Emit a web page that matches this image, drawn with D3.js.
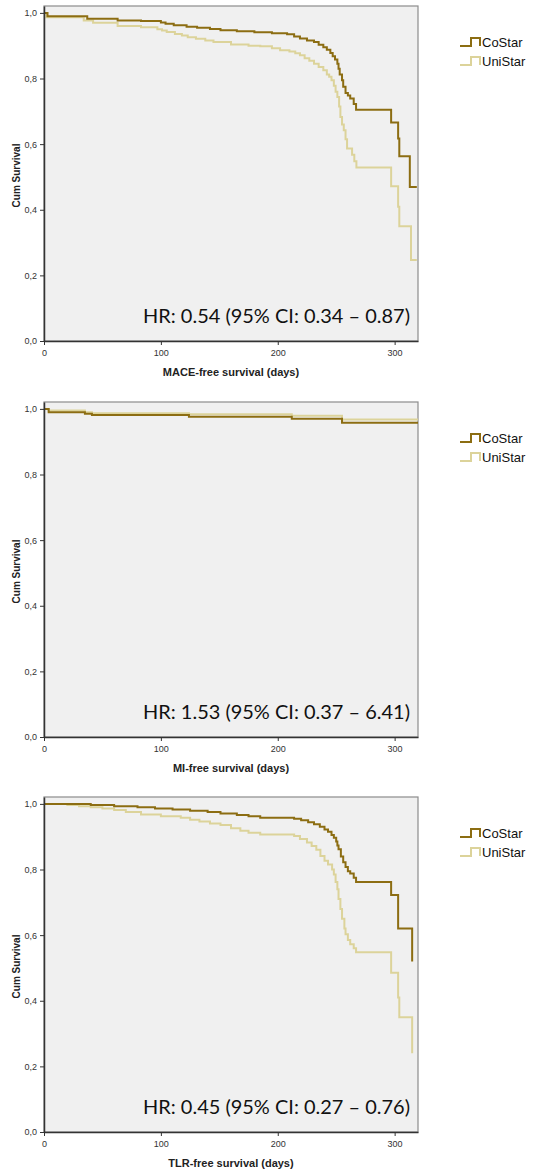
<!DOCTYPE html>
<html>
<head>
<meta charset="utf-8">
<script src="https://cdn.jsdelivr.net/npm/d3@7"></script>
<style>
	body { margin: 0; background: #fff; }
	text { font-family: Arial, "Liberation Sans", sans-serif; }
</style>
</head>
<body>
<svg id="km" width="537" height="1176"></svg>
<script>
// Kaplan-Meier steps, [day, cumulative survival]
const maceCoStar = [[0,1],[3,0.99],[37,0.982],[63,0.977],[83,0.975],[100,0.971],[104,0.967],[111,0.962],[122,0.958],[131,0.955],[142,0.951],[151,0.947],[165,0.944],[180,0.941],[195,0.938],[208,0.935],[214,0.928],[219,0.922],[225,0.916],[231,0.911],[235,0.903],[239,0.895],[242,0.888],[245,0.878],[247,0.868],[249,0.858],[251,0.845],[252,0.83],[253,0.812],[255,0.795],[256,0.775],[258,0.756],[260,0.748],[262,0.739],[265,0.722],[267,0.705],[297,0.666],[303,0.617],[304,0.563],[313,0.469],[319,0.469]];
const maceUniStar = [[0,1],[2,0.987],[34,0.977],[42,0.97],[63,0.96],[83,0.956],[97,0.95],[101,0.946],[105,0.942],[112,0.936],[118,0.931],[123,0.926],[130,0.921],[138,0.916],[145,0.911],[160,0.904],[175,0.9],[185,0.898],[195,0.892],[202,0.886],[210,0.882],[215,0.877],[219,0.871],[223,0.862],[227,0.854],[231,0.845],[235,0.835],[239,0.825],[242,0.812],[244,0.805],[246,0.795],[248,0.778],[249.5,0.76],[251,0.744],[252.5,0.715],[253.6,0.683],[255,0.66],[256.5,0.642],[258,0.615],[259.3,0.587],[263.6,0.568],[265.5,0.548],[267.3,0.529],[297,0.472],[303,0.409],[304,0.35],[314,0.247],[319,0.247]];
const miCoStar = [[0,1],[4,0.99],[35,0.985],[41,0.981],[124,0.976],[212,0.97],[255,0.958],[320,0.958]];
const miUniStar = [[0,1],[4,0.995],[35,0.99],[41,0.987],[124,0.984],[212,0.979],[255,0.968],[320,0.968]];
const tlrCoStar = [[0,1],[40,0.997],[60,0.993],[80,0.99],[95,0.986],[110,0.983],[125,0.979],[140,0.975],[151,0.971],[165,0.966],[175,0.962],[185,0.958],[214,0.955],[220,0.95],[226,0.944],[231,0.938],[236,0.93],[240,0.922],[243,0.915],[246,0.905],[248,0.897],[250,0.885],[251,0.873],[252,0.862],[254,0.84],[256,0.822],[258,0.808],[260,0.795],[262,0.788],[265,0.775],[267,0.762],[297,0.722],[303,0.62],[315,0.52]];
const tlrUniStar = [[0,1],[20,0.997],[30,0.993],[40,0.99],[50,0.986],[60,0.981],[70,0.975],[83,0.968],[100,0.962],[117,0.958],[125,0.952],[133,0.946],[142,0.94],[151,0.936],[160,0.926],[168,0.918],[175,0.912],[185,0.907],[214,0.902],[219,0.893],[225,0.882],[229,0.872],[233,0.86],[236.5,0.841],[240,0.827],[243,0.815],[246.5,0.8],[248,0.785],[249.5,0.762],[251,0.74],[252,0.71],[253.6,0.68],[255,0.65],[257,0.62],[258,0.603],[260,0.585],[262,0.572],[265,0.56],[267,0.548],[297,0.485],[303,0.41],[304,0.35],[315,0.24]];

const xTitles = ["MACE-free survival (days)", "MI-free survival (days)", "TLR-free survival (days)"];
const hrLabels = ["HR: 0.54 (95% CI: 0.34 \u2013 0.87)", "HR: 1.53 (95% CI: 0.37 \u2013 6.41)", "HR: 0.45 (95% CI: 0.27 \u2013 0.76)"];
const groups = ["CoStar", "UniStar"];
const xTicks = [0, 100, 200, 300];
const yTicks = [0, 0.2, 0.4, 0.6, 0.8, 1.0];

const colors = { CoStar: "#8c6d12", UniStar: "#dcd39a" };
const panelTops = [6, 402, 797];
const plotL = 44, plotR = 418, plotH = 335;

let svg = d3.select('#km');

let x = d3.scaleLinear().domain([0, 320]).range([plotL, plotR]),
	y = d3.scaleLinear().domain([0, 1.021]).range([plotH, 0]);

let line = d3.line()
	.x(d => x(d[0]))
	.y(d => y(d[1]))
	.curve(d3.curveStepAfter);

let panels = [
	{ co: maceCoStar, uni: maceUniStar },
	{ co: miCoStar, uni: miUniStar },
	{ co: tlrCoStar, uni: tlrUniStar },
];

panels.forEach((p, i) => {
	let g = svg.append('g')
		.attr('transform', `translate(0, ${panelTops[i]})`);

	g.append('rect')
		.attr('x', plotL)
		.attr('y', 0)
		.attr('width', plotR - plotL)
		.attr('height', plotH)
		.attr('fill', '#f0f0f0')
		.attr('stroke', '#8c8c8c')
		.attr('stroke-width', 1.2);

	// curves, UniStar below CoStar
	[['UniStar', p.uni], ['CoStar', p.co]].forEach(([name, data]) => {
		g.append('path')
			.datum(data)
			.attr('d', line)
			.attr('fill', 'none')
			.attr('stroke', colors[name])
			.attr('stroke-width', 2);
	});

	// axes
	let yAxis = g.append('g')
		.attr('transform', `translate(${plotL}, 0)`)
		.call(d3.axisLeft(y)
			.tickValues(yTicks)
			.tickSize(4)
			.tickSizeOuter(0)
			.tickFormat(d => d3.format('.1f')(d).replace('.', ',')));

	let xAxis = g.append('g')
		.attr('transform', `translate(0, ${plotH})`)
		.call(d3.axisBottom(x)
			.tickValues(xTicks)
			.tickSize(4)
			.tickSizeOuter(0));

	[yAxis, xAxis].forEach(a => {
		a.select('.domain').attr('stroke', '#333').attr('stroke-width', 1.5);
		a.selectAll('.tick line').attr('stroke', '#333');
		a.selectAll('.tick text')
			.attr('fill', '#333')
			.style('font-size', '9px')
			.style('font-family', 'Arial, "Liberation Sans", sans-serif');
	});
	xAxis.selectAll('.tick text').attr('dy', '0.9em');

	g.append('text')
		.attr('x', (plotL + plotR) / 2)
		.attr('y', plotH + 35)
		.attr('text-anchor', 'middle')
		.style('font-size', '11px')
		.style('font-weight', 'bold')
		.attr('fill', '#222')
		.text(xTitles[i]);

	g.append('text')
		.attr('transform', `translate(20, ${plotH / 2 + 2}) rotate(-90)`)
		.attr('text-anchor', 'middle')
		.style('font-size', '10px')
		.style('font-weight', 'bold')
		.attr('fill', '#222')
		.text('Cum Survival');

	g.append('text')
		.attr('x', 410)
		.attr('y', plotH - 18)
		.attr('text-anchor', 'end')
		.attr('textLength', 267)
		.attr('lengthAdjust', 'spacingAndGlyphs')
		.style('font-family', 'Lato, "Open Sans", sans-serif')
		.style('font-size', '20px')
		.attr('fill', '#111')
		.text(hrLabels[i]);

	// legend
	let leg = g.selectAll('.legend')
		.data(groups)
		.enter()
		.append('g')
		.attr('class', 'legend')
		.attr('transform', (d, k) => `translate(460, ${36 + k * 19})`);

	leg.append('path')
		.attr('d', 'M0,4 H11 V-4 H20 V4')
		.attr('fill', 'none')
		.attr('stroke', d => colors[d])
		.attr('stroke-width', 2);

	leg.append('text')
		.attr('x', 22)
		.attr('dy', '0.35em')
		.style('font-size', '13px')
		.attr('fill', '#111')
		.text(d => d);
});
</script>
</body>
</html>
